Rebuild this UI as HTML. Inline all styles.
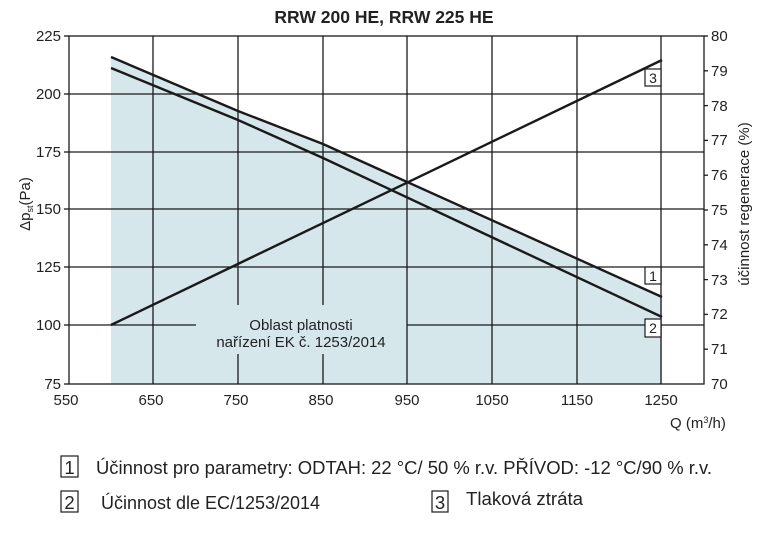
<!DOCTYPE html>
<html><head><meta charset="utf-8"><style>
html,body{margin:0;padding:0;background:#fff;}
svg{display:block;font-family:"Liberation Sans",Arial,sans-serif;}
</style></head><body>
<svg width="766" height="537" viewBox="0 0 766 537" xmlns="http://www.w3.org/2000/svg">
<text x="384" y="23" text-anchor="middle" font-size="17.5" font-weight="bold" fill="#222">RRW 200 HE, RRW 225 HE</text>
<!-- shaded -->
<polygon points="111,57 238,111 323,144 662,297 662,384 111,384" fill="#d5e7eb"/>
<rect x="196" y="305" width="211" height="49" fill="#d5e7eb"/>
<!-- grid -->
<g stroke="#1a1a1a" stroke-width="1.3" fill="none">
<line x1="153" y1="36" x2="153" y2="384"/>
<line x1="238" y1="36" x2="238" y2="305"/><line x1="238" y1="354" x2="238" y2="384"/>
<line x1="323" y1="36" x2="323" y2="305"/><line x1="323" y1="354" x2="323" y2="384"/>
<line x1="407" y1="36" x2="407" y2="384"/>
<line x1="492" y1="36" x2="492" y2="384"/>
<line x1="577" y1="36" x2="577" y2="384"/>
<line x1="661" y1="36" x2="661" y2="384"/>
<line x1="69" y1="94" x2="704" y2="94"/>
<line x1="69" y1="152" x2="704" y2="152"/>
<line x1="69" y1="209" x2="704" y2="209"/>
<line x1="69" y1="267" x2="704" y2="267"/>
<line x1="69" y1="325" x2="196" y2="325"/><line x1="407" y1="325" x2="704" y2="325"/>
<rect x="69" y="36" width="635" height="348"/>
</g>
<g stroke="#1a1a1a" stroke-width="1.3">
<line x1="64" y1="36" x2="69" y2="36"/><line x1="64" y1="94" x2="69" y2="94"/><line x1="64" y1="152" x2="69" y2="152"/>
<line x1="64" y1="209" x2="69" y2="209"/><line x1="64" y1="267" x2="69" y2="267"/><line x1="64" y1="325" x2="69" y2="325"/><line x1="64" y1="384" x2="69" y2="384"/>
<line x1="704" y1="36" x2="708" y2="36"/><line x1="704" y1="70.8" x2="708" y2="70.8"/><line x1="704" y1="105.6" x2="708" y2="105.6"/>
<line x1="704" y1="140.4" x2="708" y2="140.4"/><line x1="704" y1="175.2" x2="708" y2="175.2"/><line x1="704" y1="210" x2="708" y2="210"/>
<line x1="704" y1="244.8" x2="708" y2="244.8"/><line x1="704" y1="279.6" x2="708" y2="279.6"/><line x1="704" y1="314.4" x2="708" y2="314.4"/>
<line x1="704" y1="349.2" x2="708" y2="349.2"/>
</g>
<g font-size="15" fill="#222" text-anchor="end">
<text x="61" y="41">225</text><text x="61" y="99">200</text><text x="61" y="157">175</text><text x="61" y="214">150</text>
<text x="61" y="272">125</text><text x="61" y="330">100</text><text x="61" y="389">75</text>
</g>
<g font-size="15" fill="#222" text-anchor="start">
<text x="711" y="41">80</text><text x="711" y="76">79</text><text x="711" y="111">78</text><text x="711" y="145">77</text>
<text x="711" y="180">76</text><text x="711" y="215">75</text><text x="711" y="250">74</text><text x="711" y="285">73</text>
<text x="711" y="319">72</text><text x="711" y="354">71</text><text x="711" y="389">70</text>
</g>
<g font-size="15" fill="#222" text-anchor="middle">
<text x="66" y="405">550</text><text x="151" y="405">650</text><text x="236" y="405">750</text><text x="321" y="405">850</text>
<text x="407" y="405">950</text><text x="492" y="405">1050</text><text x="577" y="405">1150</text><text x="661" y="405">1250</text>
</g>
<text x="670" y="428" font-size="15" fill="#222">Q (m<tspan font-size="9" dy="-5">3</tspan><tspan dy="5">/h)</tspan></text>
<text transform="translate(30,204) rotate(-90)" text-anchor="middle" font-size="15" fill="#222">Δp<tspan font-size="9" dy="3">st</tspan><tspan dy="-3">(Pa)</tspan></text>
<text transform="translate(749,204) rotate(-90)" text-anchor="middle" font-size="15" fill="#222">účinnost regenerace (%)</text>
<text x="301" y="330" text-anchor="middle" font-size="15" fill="#222">Oblast platnosti</text>
<text x="301" y="347" text-anchor="middle" font-size="15" fill="#222">nařízení EK č. 1253/2014</text>
<g stroke="#1a1a1a" stroke-width="2.4" fill="none">
<polyline points="111,57 238,111 323,144 662,297"/>
<polyline points="111,68 238,120 323,158 662,317"/>
<line x1="111" y1="325" x2="662" y2="60"/>
</g>
<g fill="#fff" stroke="#1a1a1a" stroke-width="1.2">
<rect x="645" y="69" width="16" height="17"/>
<rect x="645" y="267" width="16" height="17"/>
<rect x="645" y="319" width="16" height="18"/>
</g>
<g font-size="14" fill="#222" text-anchor="middle">
<text x="653" y="83">3</text><text x="653" y="281">1</text><text x="653" y="333">2</text>
</g>
<g fill="#fff" stroke="#1a1a1a" stroke-width="1.2">
<rect x="61" y="456" width="17" height="21"/>
<rect x="61" y="491" width="17" height="21"/>
<rect x="432" y="491" width="16" height="21"/>
</g>
<g font-size="18.5" fill="#222">
<text x="69.5" y="474" text-anchor="middle">1</text>
<text x="69.5" y="509" text-anchor="middle">2</text>
<text x="440" y="509" text-anchor="middle">3</text>
<text x="96" y="474" textLength="616" lengthAdjust="spacingAndGlyphs">Účinnost pro parametry: ODTAH: 22 °C/ 50 % r.v. PŘÍVOD: -12 °C/90 % r.v.</text>
<text x="101" y="509" textLength="219" lengthAdjust="spacingAndGlyphs">Účinnost dle EC/1253/2014</text>
<text x="466" y="505" textLength="117" lengthAdjust="spacingAndGlyphs">Tlaková ztráta</text>
</g>
</svg>
</body></html>
